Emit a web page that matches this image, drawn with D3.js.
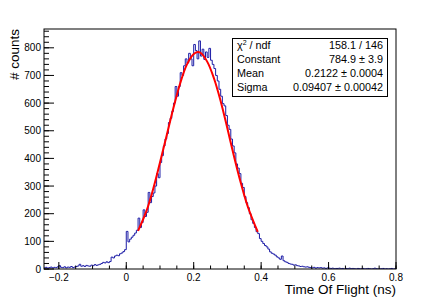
<!DOCTYPE html>
<html>
<head>
<meta charset="utf-8">
<script src="https://cdn.jsdelivr.net/npm/d3@7/dist/d3.min.js"></script>
<style>
  html, body { margin: 0; padding: 0; background: #fff; }
  svg { display: block; font-family: "Liberation Sans", Arial, Helvetica, sans-serif; }
</style>
</head>
<body>
<svg id="chart" width="440" height="300"></svg>
<script>
// ---- data ----
const binStart = -0.245;
const binWidth = 0.005;
const counts = [
  4,6,3,5,7,4,6,5,8,12,
  6,5,8,4,7,6,9,5,7,9,
  11,17,10,12,9,13,11,10,14,12,
  16,13,15,17,20,24,22,26,23,27,
  43,40,47,50,48,55,58,63,70,
  136,98,108,115,122,130,140,184,150,168,
  214,190,205,277,240,262,275,300,345,330,
  385,410,445,470,490,530,545,570,600,660,
  625,660,710,700,735,760,745,780,760,735,
  812,790,760,825,770,795,758,785,765,798,
  755,740,725,700,680,650,625,598,590,555,
  520,505,470,445,420,380,365,345,310,295,
  262,240,222,200,178,165,150,135,128,110,
  100,92,85,80,72,62,57,54,50,44,
  40,35,47,30,26,24,20,18,17,14,
  15,12,11,9,10,8,7,8,6,5,
  4,6,3,5,4,5,3,4,2,4,3,
  2,3,1,2,2,3,1,2,0,2,1,3,1,2,1,0,2,1,1,2,0,1,2,1,0,1,3,1,0,1,1,2,0,1,0,1,2,0,1
];
const fitX = [0.035,0.06,0.08,0.1,0.12,0.14,0.16,0.18,0.2,0.212,0.22,0.24,0.26,0.28,0.3,0.32,0.34,0.36,0.39];
const fitY = [138,210,290,385,484,583,672,740,778,785,782,750,690,607,508,405,310,227,134];
const xTicks = [-0.2, 0, 0.2, 0.4, 0.6, 0.8];
const xTickLabels = ["\u22120.2", "0", "0.2", "0.4", "0.6", "0.8"];
const yTicks = [0,100,200,300,400,500,600,700,800];
const statLabels = ["ndf", "Constant", "Mean", "Sigma"];
const statValues = ["158.1 / 146", "784.9 \u00b1 3.9", "0.2122 \u00b1 0.0004", "0.09407 \u00b1 0.00042"];
const xTitle = "Time Of Flight (ns)";
const yTitle = "# counts";

// ---- layout ----
const L = 44, R = 396, T = 29, B = 269;
const svg = d3.select("#chart");
const x = d3.scaleLinear().domain([-0.244, 0.8]).range([L, R]);
const y = d3.scaleLinear().domain([0, 868]).range([B, T]);

svg.append("clipPath").attr("id", "clip")
  .append("rect").attr("x", L).attr("y", T).attr("width", R - L).attr("height", B - T);

// histogram step line
const pts = counts.map((c, i) => [binStart + i * binWidth, c]);
pts.push([binStart + counts.length * binWidth, counts[counts.length - 1]]);
const histLine = d3.line().x(d => x(d[0])).y(d => y(d[1])).curve(d3.curveStepAfter);
svg.append("path").attr("d", histLine(pts))
  .attr("fill", "none").attr("stroke", "#1c1ca6").attr("stroke-width", 1)
  .attr("clip-path", "url(#clip)");

// fit curve
const fitLine = d3.line().x((d, i) => x(fitX[i])).y((d, i) => y(fitY[i])).curve(d3.curveCatmullRom);
svg.append("path").attr("d", fitLine(fitX))
  .attr("fill", "none").attr("stroke", "#ff0000").attr("stroke-width", 2);

// frame
svg.append("rect").attr("x", L).attr("y", T).attr("width", R - L).attr("height", B - T)
  .attr("fill", "none").attr("stroke", "#000").attr("stroke-width", 1);

// x axis ticks
const xMinor = d3.range(-0.2, 0.8001, 0.05);
svg.append("g").selectAll("line").data(xMinor).join("line")
  .attr("x1", d => x(d)).attr("x2", d => x(d))
  .attr("y1", B).attr("y2", B - 3.5).attr("stroke", "#000").attr("stroke-width", 1);
svg.append("g").selectAll("line").data(xTicks).join("line")
  .attr("x1", d => x(d)).attr("x2", d => x(d))
  .attr("y1", B).attr("y2", B - 7).attr("stroke", "#000").attr("stroke-width", 1);
svg.append("g").selectAll("text").data(xTicks).join("text")
  .attr("x", d => x(d)).attr("y", 281).attr("text-anchor", "middle")
  .attr("font-size", 10).attr("fill", "#000")
  .text((d, i) => xTickLabels[i]);

// y axis ticks
const yMinor = d3.range(0, 861, 20);
svg.append("g").selectAll("line").data(yMinor).join("line")
  .attr("x1", L).attr("x2", L + 5)
  .attr("y1", d => y(d)).attr("y2", d => y(d)).attr("stroke", "#000").attr("stroke-width", 1);
svg.append("g").selectAll("line").data(yTicks).join("line")
  .attr("x1", L).attr("x2", L + 10)
  .attr("y1", d => y(d)).attr("y2", d => y(d)).attr("stroke", "#000").attr("stroke-width", 1);
svg.append("g").selectAll("text").data(yTicks).join("text")
  .attr("x", 41).attr("y", d => y(d) + 3.6).attr("text-anchor", "end")
  .attr("font-size", 10).attr("fill", "#000")
  .text(d => d);

// axis titles
svg.append("text").attr("x", R).attr("y", 294).attr("text-anchor", "end")
  .attr("font-size", 13.5).attr("fill", "#000").text(xTitle);
svg.append("text").attr("transform", `translate(19,${T}) rotate(-90)`)
  .attr("text-anchor", "end").attr("font-size", 13.5).attr("fill", "#000").text(yTitle);

// stats box
const sb = { x0: 232, y0: 38, x1: 388, y1: 97 };
svg.append("rect").attr("x", sb.x0 + 0.5).attr("y", sb.y0 + 0.5)
  .attr("width", sb.x1 - sb.x0 - 1).attr("height", sb.y1 - sb.y0 - 1)
  .attr("fill", "#fff").attr("stroke", "#000").attr("stroke-width", 1);
const rowY = [48.7, 62.7, 76.7, 90.7];
statLabels.forEach((lab, i) => {
  const t = svg.append("text").attr("x", 237).attr("y", rowY[i])
    .attr("font-size", 10.8).attr("fill", "#000");
  if (i === 0) {
    t.append("tspan").text("\u03c7");
    t.append("tspan").attr("font-size", 7).attr("dy", -4).text("2");
    t.append("tspan").attr("dy", 4).text(" / " + lab);
  } else {
    t.text(lab);
  }
  svg.append("text").attr("x", 383).attr("y", rowY[i]).attr("text-anchor", "end")
    .attr("font-size", 10.8).attr("fill", "#000").text(statValues[i]);
});
</script>
</body>
</html>
